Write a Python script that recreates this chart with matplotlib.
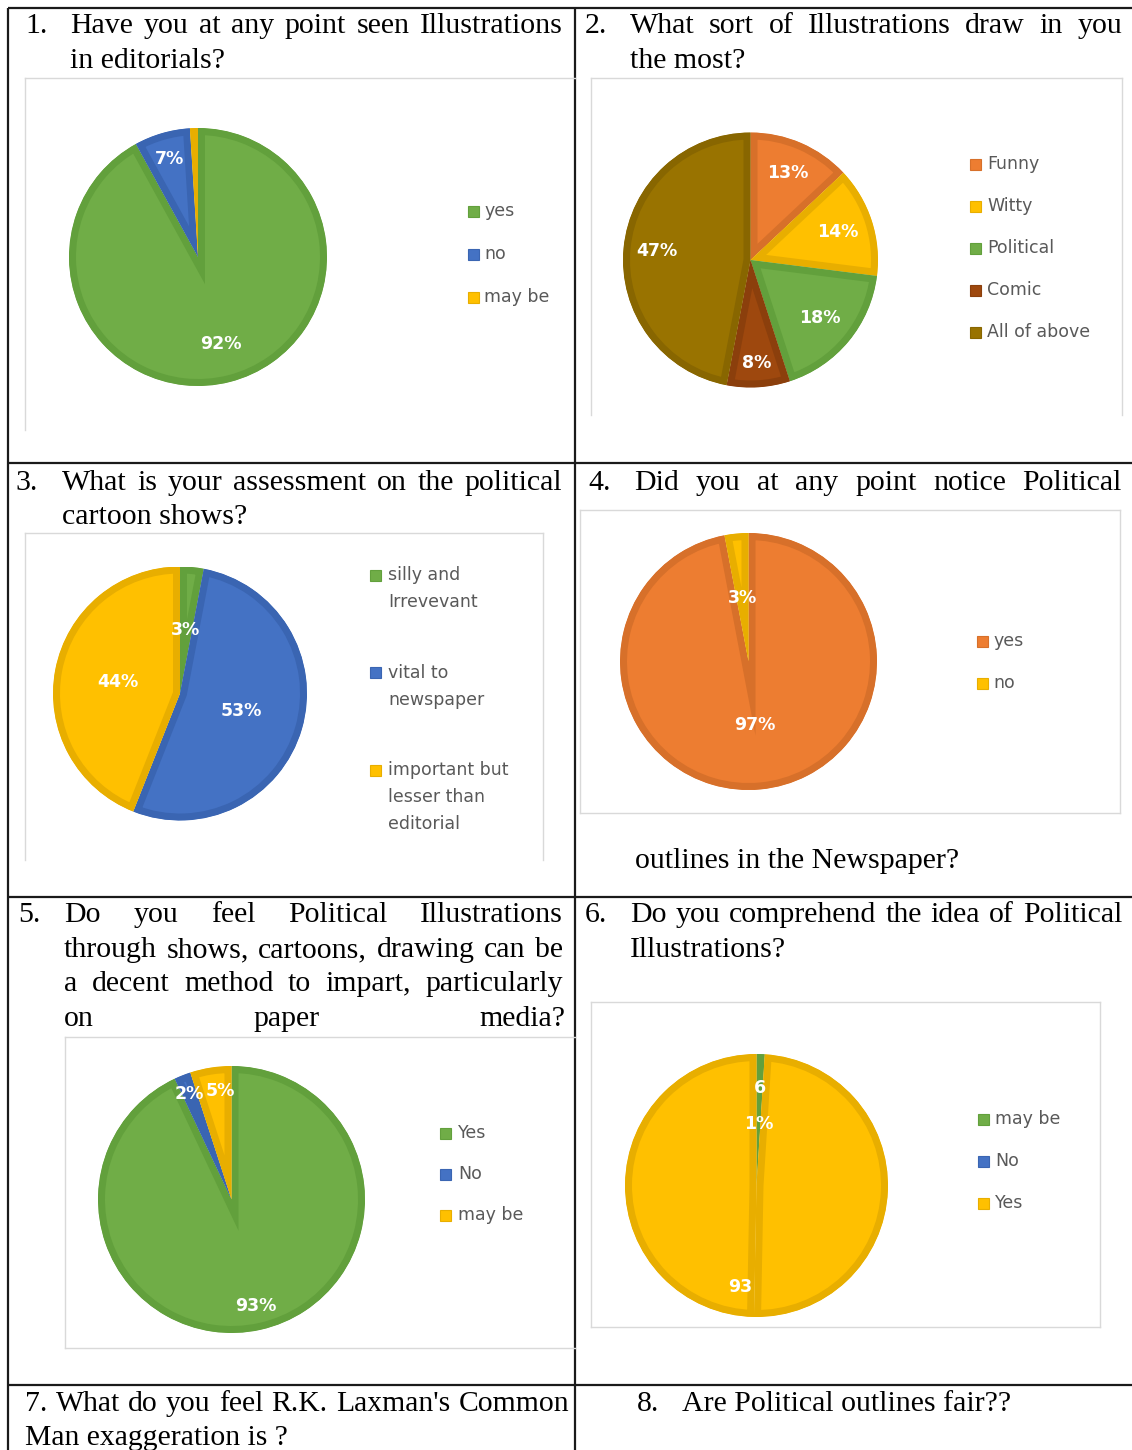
import matplotlib
matplotlib.use("Agg")
import matplotlib.pyplot as plt
from matplotlib.patches import Rectangle
import numpy as np

W, H, DPI = 1132, 1450, 100

# ---------------- data ----------------
q1_labels = ["yes", "no", "may be"]
q1_values = [92, 7, 1]
q2_labels = ["Funny", "Witty", "Political", "Comic", "All of above"]
q2_values = [13, 14, 18, 8, 47]
q3_labels = ["silly and\nIrrevevant", "vital to\nnewspaper", "important but\nlesser than\neditorial"]
q3_values = [3, 53, 44]
q4_labels = ["yes", "no"]
q4_values = [97, 3]
q5_labels = ["Yes", "No", "may be"]
q5_values = [93, 2, 5]
q6_labels = ["may be", "No", "Yes"]
q6_values = [1, 0, 99]
q6_yes_parts = [49.3, 49.7]          # the Yes slice is drawn in two adjoining parts
q6_data_labels = ["6", "1%", "93"]

# ---------------- colours ----------------
GREEN, GREEN_E = "#70AD47", "#62A03C"
BLUE, BLUE_E = "#4472C4", "#3A65B2"
YELLOW, YELLOW_E = "#FFC000", "#E8AE00"
ORANGE, ORANGE_E = "#ED7D31", "#D7702A"
COMIC, COMIC_E = "#9E480E", "#8B3F0C"
ALL, ALL_E = "#997300", "#886600"

SERIF = "Liberation Serif"
SANS = "DejaVu Sans"
TFS = 21.5

fig = plt.figure(figsize=(W / DPI, H / DPI), dpi=DPI)
fig.patch.set_facecolor("white")
ax0 = fig.add_axes([0, 0, 1, 1])
ax0.set_xlim(0, W)
ax0.set_ylim(H, 0)
ax0.axis("off")
renderer = fig.canvas.get_renderer()

# ---------------- table grid ----------------
LX, MX, RX = 8, 575, 1132
ROWS = [8, 463, 897, 1385]
for y in ROWS:
    ax0.plot([LX, RX], [y, y], color="#1a1a1a", lw=1.6, solid_capstyle="butt")
for x in (LX, MX):
    ax0.plot([x, x], [ROWS[0], H], color="#1a1a1a", lw=1.6, solid_capstyle="butt")

# ---------------- chart frames ----------------
FC = "#D9D9D9"
def seg(x0, y0, x1, y1):
    ax0.plot([x0, x1], [y0, y1], color=FC, lw=1.0)

seg(25, 78, 575, 78); seg(25, 78, 25, 430)
seg(591, 78, 1122, 78); seg(591, 78, 591, 415); seg(1122, 78, 1122, 415)
seg(25, 533, 543, 533); seg(25, 533, 25, 860); seg(543, 533, 543, 860)
seg(580, 510, 1120, 510); seg(580, 813, 1120, 813); seg(580, 510, 580, 813); seg(1120, 510, 1120, 813)
seg(65, 1037, 575, 1037); seg(65, 1037, 65, 1348); seg(65, 1348, 575, 1348)
seg(591, 1002, 1100, 1002); seg(591, 1327, 1100, 1327); seg(591, 1002, 591, 1327); seg(1100, 1002, 1100, 1327)

# ---------------- titles ----------------
def tx(x, y, s, fs=TFS):
    return ax0.text(x, y, s, fontsize=fs, family=SERIF, va="baseline", ha="left", color="black")

def justify(x0, x1, y, line, fs=TFS):
    words = line.split()
    texts = [tx(0, y, w, fs) for w in words]
    widths = [t.get_window_extent(renderer).width for t in texts]
    gap = (x1 - x0 - sum(widths)) / max(len(words) - 1, 1)
    x = x0
    for t, w in zip(texts, widths):
        t.set_x(x)
        x += w + gap

tx(25, 33, "1.")
justify(70, 563, 33, "Have you at any point seen Illustrations")
tx(70, 68, "in editorials?")

tx(585, 33, "2.")
justify(630, 1122, 33, "What sort of Illustrations draw in you")
tx(630, 68, "the most?")

tx(15, 490, "3.")
justify(62, 562, 490, "What is your assessment on the political")
tx(62, 524, "cartoon shows?")

tx(588, 490, "4.")
justify(634, 1122, 490, "Did you at any point notice Political")
tx(635, 868, "outlines in the Newspaper?")

tx(18, 922, "5.")
justify(64, 563, 922, "Do you feel Political Illustrations")
justify(64, 563, 957, "through shows, cartoons, drawing can be")
justify(64, 563, 991, "a decent method to impart, particularly")
justify(64, 565, 1026, "on paper media?")

tx(585, 922, "6.")
justify(630, 1122, 922, "Do you comprehend the idea of Political")
tx(630, 957, "Illustrations?")

justify(25, 569, 1411, "7. What do you feel R.K. Laxman's Common", fs=21.3)
tx(25, 1445, "Man exaggeration is ?", fs=21.3)

tx(637, 1411, "8.")
tx(682, 1411, "Are Political outlines fair??")

# ---------------- pies ----------------
INSET_PX = 7

def draw_pie(cx, cy, r, values, colors, edges, labels):
    ax = fig.add_axes([(cx - r) / W, 1 - (cy + r) / H, 2 * r / W, 2 * r / H])
    wedges, _ = ax.pie(values, colors=colors, startangle=90, counterclock=False,
                       radius=1.0, normalize=True,
                       wedgeprops=dict(linewidth=2 * INSET_PX * 72 / DPI))
    ax.set_xlim(-1, 1)
    ax.set_ylim(-1, 1)
    ax.set_aspect("equal")
    ax.axis("off")
    for w, ec in zip(wedges, edges):
        w.set_edgecolor(ec)
        w.set_clip_on(True)
        w.set_clip_path(w)
    for idx, text, dist, frac in labels:
        w = wedges[idx]
        ang = np.deg2rad(w.theta2 - frac * (w.theta2 - w.theta1))
        ax.text(dist * np.cos(ang), dist * np.sin(ang), text, ha="center", va="center",
                color="white", fontsize=12.5, fontweight="bold", family=SANS)
    return ax

def pct(vals, i):
    return f"{round(100 * vals[i] / sum(vals))}%"

draw_pie(198, 257, 129, q1_values, [GREEN, BLUE, YELLOW], [GREEN_E, BLUE_E, YELLOW_E],
         [(0, pct(q1_values, 0), 0.70, 0.5), (1, pct(q1_values, 1), 0.79, 0.5)])

q2_dist = [0.74, 0.72, 0.71, 0.81, 0.74]
draw_pie(750.5, 260, 127.5, q2_values, [ORANGE, YELLOW, GREEN, COMIC, ALL],
         [ORANGE_E, YELLOW_E, GREEN_E, COMIC_E, ALL_E],
         [(i, pct(q2_values, i), q2_dist[i], 0.5) for i in range(5)])

draw_pie(180, 693.5, 127, q3_values, [GREEN, BLUE, YELLOW], [GREEN_E, BLUE_E, YELLOW_E],
         [(i, pct(q3_values, i), 0.5, 0.5) for i in range(3)])

draw_pie(748.5, 661.5, 128.5, q4_values, [ORANGE, YELLOW], [ORANGE_E, YELLOW_E],
         [(i, pct(q4_values, i), 0.5, 0.5) for i in range(2)])

q5_dist = [0.82, 0.85, 0.82]
q5_frac = [0.5, 0.5, 0.68]
draw_pie(231.5, 1199.5, 133.5, q5_values, [GREEN, BLUE, YELLOW], [GREEN_E, BLUE_E, YELLOW_E],
         [(i, pct(q5_values, i), q5_dist[i], q5_frac[i]) for i in range(3)])

q6_draw = [q6_values[0], q6_values[1]] + q6_yes_parts
draw_pie(756.5, 1185.5, 131.5, q6_draw, [GREEN, BLUE, YELLOW, YELLOW],
         [GREEN_E, BLUE_E, YELLOW_E, YELLOW_E],
         [(0, q6_data_labels[0], 0.74, 0.5), (0, q6_data_labels[1], 0.47, 0.5),
          (3, q6_data_labels[2], 0.78, 0.045)])

# ---------------- legends ----------------
LEG_FS = 12.5
LEG_C = "#595959"

def legend(labels, colors, edges, sq_x, text_x, y0, step, line_h=27, sq=11):
    y = y0
    for lab, col, ec in zip(labels, colors, edges):
        ax0.add_patch(Rectangle((sq_x, y - sq / 2), sq, sq, facecolor=col, edgecolor=ec, lw=0.8))
        for j, ln in enumerate(lab.split("\n")):
            ax0.text(text_x, y + j * line_h, ln, fontsize=LEG_FS, family=SANS, color=LEG_C,
                     va="center", ha="left")
        y += step

legend(q1_labels, [GREEN, BLUE, YELLOW], [GREEN_E, BLUE_E, YELLOW_E], 468, 484, 211, 43)
legend(q2_labels, [ORANGE, YELLOW, GREEN, COMIC, ALL], [ORANGE_E, YELLOW_E, GREEN_E, COMIC_E, ALL_E],
       970, 987, 164, 42)
legend(q3_labels, [GREEN, BLUE, YELLOW], [GREEN_E, BLUE_E, YELLOW_E], 370, 388, 575, 97.5)
legend(q4_labels, [ORANGE, YELLOW], [ORANGE_E, YELLOW_E], 977, 993, 641, 42)
legend(q5_labels, [GREEN, BLUE, YELLOW], [GREEN_E, BLUE_E, YELLOW_E], 440, 458, 1133, 41)
legend(q6_labels, [GREEN, BLUE, YELLOW], [GREEN_E, BLUE_E, YELLOW_E], 978, 995, 1119, 42)

fig.savefig("out.png", dpi=DPI, facecolor="white")
